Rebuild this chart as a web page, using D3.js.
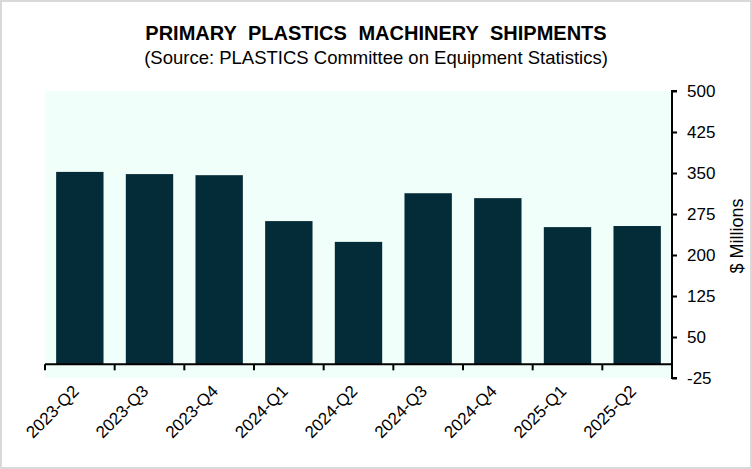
<!DOCTYPE html>
<html>
<head>
<meta charset="utf-8">
<script src="https://cdn.jsdelivr.net/npm/d3@7"></script>
<style>
  body { margin: 0; background: #fff; }
  svg { display: block; font-family: "Liberation Sans", Arial, sans-serif; }
</style>
</head>
<body>
<svg id="chart" width="752" height="469"></svg>
<script>
// quarterly shipments, $ millions
var quarters = ["2023-Q2", "2023-Q3", "2023-Q4", "2024-Q1", "2024-Q2", "2024-Q3", "2024-Q4", "2025-Q1", "2025-Q2"];
var shipments = [352, 348, 346, 262, 224, 313, 304, 251, 253];
var yTicks = [-25, 50, 125, 200, 275, 350, 425, 500];

var svg = d3.select("#chart");
var W = 752, H = 469;
var pLeft = 45, pRight = 672, pTop = 91, pBottom = 378;

// outer frame
svg.append("rect")
  .attr("x", 1).attr("y", 1)
  .attr("width", W - 2).attr("height", H - 2)
  .attr("fill", "#fff")
  .attr("stroke", "#d9d9d9")
  .attr("stroke-width", 2);

// plot background
svg.append("rect")
  .attr("x", pLeft).attr("y", pTop)
  .attr("width", pRight - pLeft).attr("height", pBottom - pTop)
  .attr("fill", "#f0fff9");

var x = d3.scaleBand()
  .domain(quarters)
  .range([pLeft, pRight])
  .paddingInner(0.32)
  .paddingOuter(0.16);

var y = d3.scaleLinear()
  .domain([-25, 500])
  .range([pBottom, pTop]);

// bars
svg.append("g")
  .selectAll("rect")
  .data(shipments)
  .join("rect")
  .attr("x", function(d, i) { return x(quarters[i]); })
  .attr("y", function(d) { return y(d); })
  .attr("width", x.bandwidth())
  .attr("height", function(d) { return y(0) - y(d); })
  .attr("fill", "#032b38");

// x axis along zero, ticks between categories
var step = x.step();
var xAxis = svg.append("g");
xAxis.append("line")
  .attr("x1", pLeft).attr("x2", pRight)
  .attr("y1", y(0)).attr("y2", y(0))
  .attr("stroke", "#000").attr("stroke-width", 2);
xAxis.selectAll("line.tick")
  .data(d3.range(quarters.length + 1))
  .join("line")
  .attr("class", "tick")
  .attr("x1", function(i) { return pLeft + i * step; })
  .attr("x2", function(i) { return pLeft + i * step; })
  .attr("y1", y(0)).attr("y2", y(0) + 6)
  .attr("stroke", "#000").attr("stroke-width", 2);
xAxis.selectAll("text")
  .data(quarters)
  .join("text")
  .attr("transform", function(d) {
    return "translate(" + (x(d) + x.bandwidth() / 2) + "," + (y(0) + 28) + ") rotate(-45)";
  })
  .attr("text-anchor", "end")
  .attr("font-size", 17)
  .attr("fill", "#000")
  .text(function(d) { return d; });

// right y axis
var yAxis = d3.axisRight(y)
  .tickValues(yTicks)
  .tickFormat(function(d) { return String(d); })
  .tickSize(5)
  .tickPadding(10);
var gy = svg.append("g")
  .attr("transform", "translate(" + pRight + ",0)")
  .call(yAxis);
gy.select(".domain").attr("stroke", "#000").attr("stroke-width", 2)
  .attr("d", "M5," + y(500) + "H0V" + y(-25) + "H5");
gy.selectAll(".tick line").attr("stroke", "#000").attr("stroke-width", 2);
gy.selectAll(".tick text")
  .attr("font-family", "Liberation Sans, Arial, sans-serif")
  .attr("font-size", 17)
  .attr("fill", "#000");

svg.append("text")
  .attr("transform", "translate(743,236) rotate(-90)")
  .attr("text-anchor", "middle")
  .attr("font-size", 18)
  .text("$ Millions");

// titles
svg.append("text")
  .attr("x", 376).attr("y", 40)
  .attr("text-anchor", "middle")
  .attr("font-size", 20)
  .attr("font-weight", "bold")
  .attr("word-spacing", 6)
  .text("PRIMARY PLASTICS MACHINERY SHIPMENTS");
svg.append("text")
  .attr("x", 376).attr("y", 64)
  .attr("text-anchor", "middle")
  .attr("font-size", 18.5)
  .text("(Source: PLASTICS Committee on Equipment Statistics)");
</script>
</body>
</html>
